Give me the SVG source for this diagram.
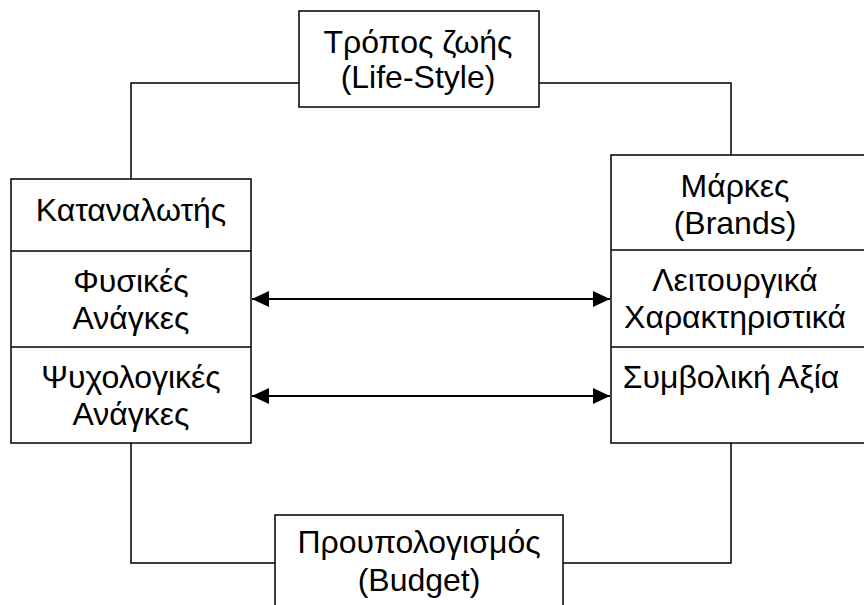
<svg xmlns="http://www.w3.org/2000/svg" width="864" height="605" viewBox="0 0 864 605">
<defs>
<marker id="ah" markerUnits="userSpaceOnUse" markerWidth="20" markerHeight="18" refX="17" refY="8" orient="auto-start-reverse" viewBox="0 0 20 18">
<path d="M0,0 L17,8 L0,16 Z" fill="#000"/>
</marker>
<style>
.box{fill:#fff;stroke:#000;stroke-width:1.5}
.div{stroke:#000;stroke-width:1.5}
.ln{fill:none;stroke:#000;stroke-width:1.5}
.ar{fill:none;stroke:#000;stroke-width:2.2;marker-start:url(#ah);marker-end:url(#ah)}
text{font-family:"Liberation Sans",Arial,sans-serif;font-size:32px;fill:#000;text-anchor:middle}
</style>
</defs>
<rect width="864" height="605" fill="#fff"/>
<g id="connectors">
<polyline class="ln" points="131,179 131,83 299,83"/>
<polyline class="ln" points="539,83 731,83 731,155"/>
<polyline class="ln" points="131,443 131,563 275,563"/>
<polyline class="ln" points="563,563 731,563 731,443"/>
<line class="ar" x1="252" y1="299" x2="610" y2="299"/>
<line class="ar" x1="252" y1="396" x2="610" y2="396"/>
</g>
<g id="lifestyle">
<rect class="box" x="299" y="11" width="240" height="96"/>
<text x="418" y="53">Τρόπος ζωής</text>
<text x="418" y="88">(Life-Style)</text>
</g>
<g id="consumer">
<rect class="box" x="11" y="179" width="240" height="264"/>
<line class="div" x1="11" y1="251" x2="251" y2="251"/>
<line class="div" x1="11" y1="347" x2="251" y2="347"/>
<text x="131" y="221">Καταναλωτής</text>
<text x="131" y="292">Φυσικές</text>
<text x="131" y="329">Ανάγκες</text>
<text x="131" y="388">Ψυχολογικές</text>
<text x="131" y="425">Ανάγκες</text>
</g>
<g id="brands">
<rect class="box" x="611" y="155" width="270" height="288"/>
<line class="div" x1="611" y1="250" x2="870" y2="250"/>
<line class="div" x1="611" y1="347" x2="870" y2="347"/>
<text x="735" y="197">Μάρκες</text>
<text x="735" y="234">(Brands)</text>
<text x="735" y="291">Λειτουργικά</text>
<text x="735" y="328">Χαρακτηριστικά</text>
<text x="731" y="388">Συμβολική Αξία</text>
</g>
<g id="budget">
<rect class="box" x="275" y="515" width="288" height="110"/>
<text x="419" y="553">Προυπολογισμός</text>
<text x="419" y="591">(Budget)</text>
</g>
</svg>
